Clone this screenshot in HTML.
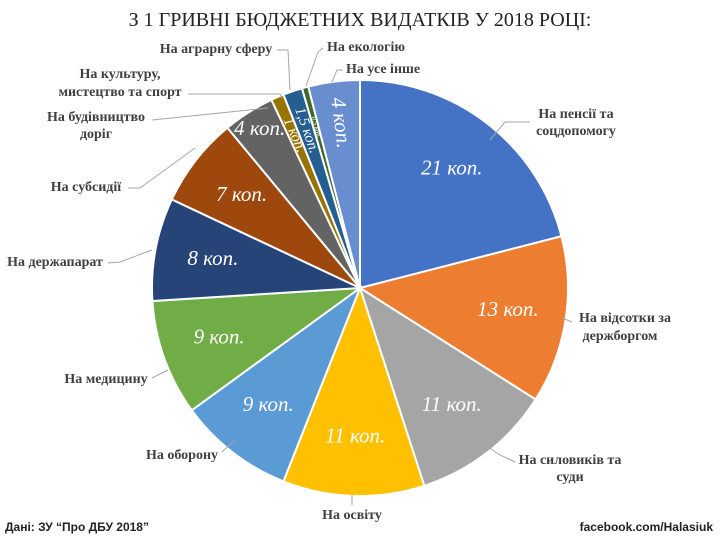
<!DOCTYPE html>
<html><head><meta charset="utf-8"><style>
body{margin:0;background:#fff;}
svg{display:block;}
.lbl{font-family:"Liberation Serif","DejaVu Serif",serif;font-weight:bold;font-size:14px;fill:#404040;}
.val{font-family:"Liberation Serif","DejaVu Serif",serif;font-style:italic;fill:#fff;}
.ld{stroke:#a6a6a6;fill:none;stroke-width:1;}
</style></head><body>
<svg id="c" width="720" height="540" viewBox="0 0 720 540">
<rect width="720" height="540" fill="#fff"/>
<text x="360" y="26" text-anchor="middle" font-family="Liberation Serif, DejaVu Serif, serif" font-size="20" fill="#222">З 1 ГРИВНІ БЮДЖЕТНИХ ВИДАТКІВ У 2018 РОЦІ:</text>
<g id="slices"></g>
<g id="leaders">
<polyline class="ld" points="530,122 505,122 490,140"/>
<polyline class="ld" points="572,322 562,318"/>
<polyline class="ld" points="515,462 500,455 485,445"/>
<polyline class="ld" points="352,505 352,495"/>
<polyline class="ld" points="222,452 235,440"/>
<polyline class="ld" points="152,378 168,370"/>
<polyline class="ld" points="108,263 120,262 152,250"/>
<polyline class="ld" points="128,188 140,188 195,148"/>
<polyline class="ld" points="152,120 268,108"/>
<polyline class="ld" points="188,94 280,94 282,98"/>
<polyline class="ld" points="277,50 288,50 290,90"/>
<polyline class="ld" points="323,48 318,52 306,86"/>
<polyline class="ld" points="343,70 337,70 332,82"/>
</g>
<g>
<text class="lbl" x="576" y="118" text-anchor="middle">На пенсії та</text>
<text class="lbl" x="576" y="135" text-anchor="middle">соцдопомогу</text>
<text class="lbl" x="625" y="322" text-anchor="middle">На відсотки за</text>
<text class="lbl" x="620" y="340" text-anchor="middle">держборгом</text>
<text class="lbl" x="570" y="464" text-anchor="middle">На силовиків та</text>
<text class="lbl" x="570" y="481" text-anchor="middle">суди</text>
<text class="lbl" x="352" y="519" text-anchor="middle">На освіту</text>
<text class="lbl" x="182" y="459" text-anchor="middle">На оборону</text>
<text class="lbl" x="106" y="383" text-anchor="middle">На медицину</text>
<text class="lbl" x="55" y="266" text-anchor="middle">На держапарат</text>
<text class="lbl" x="86" y="191" text-anchor="middle">На субсидії</text>
<text class="lbl" x="96" y="121" text-anchor="middle">На будівництво</text>
<text class="lbl" x="96" y="138" text-anchor="middle">доріг</text>
<text class="lbl" x="120" y="78" text-anchor="middle">На культуру,</text>
<text class="lbl" x="120" y="96" text-anchor="middle">мистецтво та спорт</text>
<text class="lbl" x="216" y="53" text-anchor="middle">На аграрну сферу</text>
<text class="lbl" x="327" y="51">На екологію</text>
<text class="lbl" x="346" y="73">На усе інше</text>
</g>
<text x="5" y="531" font-family="Liberation Sans, DejaVu Sans, sans-serif" font-weight="bold" font-size="12" fill="#222">Дані: ЗУ “Про ДБУ 2018”</text>
<text x="713" y="531" text-anchor="end" font-family="Liberation Sans, DejaVu Sans, sans-serif" font-weight="bold" font-size="12" fill="#222">facebook.com/Halasiuk</text>
</svg>
<script>
const categories=["pensions","debt","security","education","defense","medicine","apparatus","subsidies","roads","culture","agrarian","ecology","other"];
const values=[21,13,11,11,9,9,8,7,4,1,1.5,0.5,4];
const valueLabels=["21 коп.","13 коп.","11 коп.","11 коп.","9 коп.","9 коп.","8 коп.","7 коп.","4 коп.","1 коп.","1,5 коп.","0,5 коп.","4 коп."];
const colors=["#4472C4","#ED7D31","#A5A5A5","#FFC000","#5B9BD5","#70AD47","#264478","#9E480E","#636363","#997300","#255E91","#43682B","#698ED0"];
const cx=360,cy=288,R=208;
const total=values.reduce((a,b)=>a+b,0);
const g=document.getElementById('slices');
const NS="http://www.w3.org/2000/svg";
function pt(a,r){const t=a*Math.PI/180;return [cx+r*Math.sin(t),cy-r*Math.cos(t)];}
let acc=0;
values.forEach((v,i)=>{
  const a0=acc/total*360,a1=(acc+v)/total*360;acc+=v;
  const p0=pt(a0,R),p1=pt(a1,R);
  const path=document.createElementNS(NS,'path');
  path.setAttribute('d',`M${cx},${cy}L${p0[0]},${p0[1]}A${R},${R} 0 ${a1-a0>180?1:0} 1 ${p1[0]},${p1[1]}Z`);
  path.setAttribute('fill',colors[i]);path.setAttribute('stroke','#fff');path.setAttribute('stroke-width','2');
  
  
  g.appendChild(path);
  const am=(a0+a1)/2;
  const rot=am>330;
  let rf=rot?0.8:0.72;
  if(!rot&&a1-a0<20)rf=0.9;
  const p=pt(am,R*rf);
  const t=document.createElementNS(NS,'text');
  t.setAttribute('class','val');
  t.setAttribute('x',p[0]);t.setAttribute('y',p[1]);
  t.setAttribute('text-anchor','middle');t.setAttribute('dominant-baseline','middle');
  const fs=v<1?7:(v<2?15:21);
  t.setAttribute('font-size',fs);
  if(rot)t.setAttribute('transform',`rotate(${am-270} ${p[0]} ${p[1]})`);
  t.textContent=valueLabels[i];
  
  
  g.appendChild(t);
});
</script>
</body></html>
